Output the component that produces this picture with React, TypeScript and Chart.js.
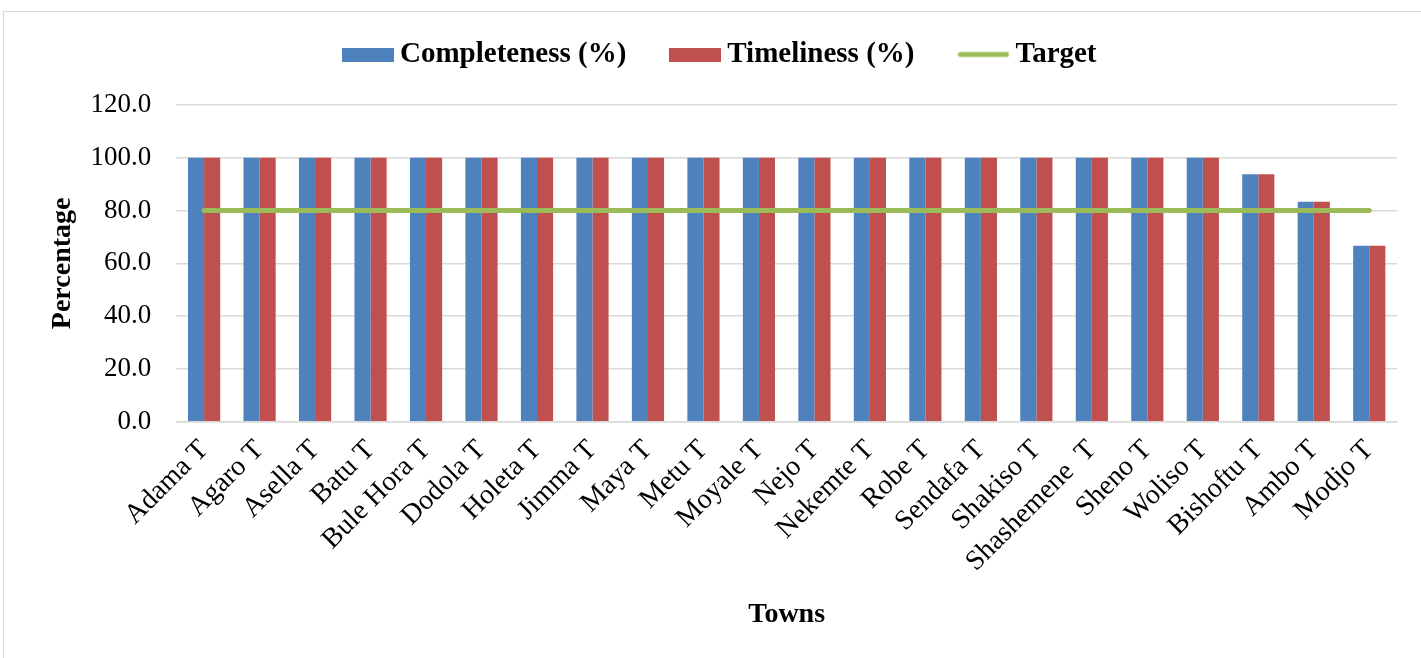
import React, { useEffect, useRef } from "react";
import { Chart, registerables } from "chart.js";

Chart.register(...registerables);

const towns = [
  "Adama T", "Agaro T", "Asella T", "Batu T", "Bule Hora T", "Dodola T",
  "Holeta T", "Jimma T", "Maya T", "Metu T", "Moyale T", "Nejo T",
  "Nekemte T", "Robe T", "Sendafa T", "Shakiso T", "Shashemene  T", "Sheno T",
  "Woliso T", "Bishoftu T", "Ambo T", "Modjo T",
];
const completeness = [100, 100, 100, 100, 100, 100, 100, 100, 100, 100, 100, 100, 100, 100, 100, 100, 100, 100, 100, 93.8, 83.3, 66.7];
const timeliness = [100, 100, 100, 100, 100, 100, 100, 100, 100, 100, 100, 100, 100, 100, 100, 100, 100, 100, 100, 93.8, 83.3, 66.7];
const target = [80, 80, 80, 80, 80, 80, 80, 80, 80, 80, 80, 80, 80, 80, 80, 80, 80, 80, 80, 80, 80, 80];
const yTicks = [0, 20, 40, 60, 80, 100, 120];

const FONT = "'Liberation Serif', 'Times New Roman', serif";
const BLUE = "#4F81BD";
const RED = "#C0504D";
const GREEN = "#9BBB59";

function makeIcon(color: string, isLine: boolean): HTMLCanvasElement {
  const cv = document.createElement("canvas");
  cv.width = 52;
  cv.height = 14;
  const ctx = cv.getContext("2d")!;
  if (isLine) {
    ctx.strokeStyle = color;
    ctx.lineWidth = 5;
    ctx.lineCap = "round";
    ctx.beginPath();
    ctx.moveTo(3, 7);
    ctx.lineTo(49, 7);
    ctx.stroke();
  } else {
    ctx.fillStyle = color;
    ctx.fillRect(0, 0, 52, 14);
  }
  return cv;
}

export default function App() {
  const ref = useRef<HTMLCanvasElement | null>(null);
  useEffect(() => {
    document.body.style.margin = "0";
    const canvas = ref.current;
    if (!canvas) return;
    const icons = [makeIcon(BLUE, false), makeIcon(RED, false), makeIcon(GREEN, true)];
    const chart = new Chart(canvas, {
      type: "bar",
      data: {
        labels: towns,
        datasets: [
          {
            label: "Completeness (%)",
            data: completeness,
            backgroundColor: BLUE,
            borderWidth: 0,
            order: 1,
            categoryPercentage: 0.58,
            barPercentage: 1,
          } as any,
          {
            label: "Timeliness (%)",
            data: timeliness,
            backgroundColor: RED,
            borderWidth: 0,
            order: 1,
            categoryPercentage: 0.58,
            barPercentage: 1,
          } as any,
          {
            type: "line",
            label: "Target",
            data: target,
            borderColor: GREEN,
            backgroundColor: GREEN,
            borderWidth: 5,
            borderCapStyle: "round",
            pointRadius: 0,
            order: 0,
          } as any,
        ],
      },
      options: {
        animation: false,
        responsive: false,
        maintainAspectRatio: false,
        layout: { padding: { top: 0, left: 26, right: 24, bottom: 26 } },
        plugins: {
          legend: {
            position: "top",
            labels: {
              usePointStyle: true,
              pointStyleWidth: 35,
              boxHeight: 14,
              padding: 51.5,
              color: "#000",
              font: { family: FONT, size: 29, weight: "bold" },
              sort: (a: any, b: any) => a.datasetIndex - b.datasetIndex,
              generateLabels: (c: any) => {
                const items = (Chart.defaults.plugins.legend.labels as any).generateLabels(c);
                return items.map((it: any) => ({ ...it, pointStyle: icons[it.datasetIndex] }));
              },
            },
          },
          tooltip: { enabled: false },
        },
        scales: {
          x: {
            grid: { display: false },
            border: { color: "#D9D9D9", width: 1.5 },
            ticks: {
              autoSkip: false,
              minRotation: 45,
              maxRotation: 45,
              padding: 4,
              color: "#000",
              font: { family: FONT, size: 28 },
            },
            title: {
              display: true,
              text: "Towns",
              color: "#000",
              font: { family: FONT, size: 28, weight: "bold" },
              padding: { top: 16, bottom: 0 },
            },
          },
          y: {
            min: 0,
            max: 120,
            afterBuildTicks: (axis: any) => {
              axis.ticks = yTicks.map((v) => ({ value: v }));
            },
            grid: { color: "#D9D9D9", lineWidth: 1.5, drawTicks: false },
            border: { display: false },
            ticks: {
              padding: 25,
              color: "#000",
              font: { family: FONT, size: 27 },
              callback: (v: any) => Number(v).toFixed(1),
            },
            title: {
              display: true,
              text: "Percentage",
              color: "#000",
              font: { family: FONT, size: 28, weight: "bold" },
              padding: { top: 20, bottom: -14 },
            },
          },
        },
      },
      plugins: [
        {
          id: "legendGap",
          beforeInit(c: any) {
            const orig = c.legend.fit;
            c.legend.fit = function () {
              orig.bind(c.legend)();
              this.height += 14.5;
            };
          },
          afterLayout(c: any) {
            const lg = c.legend;
            if (!lg) return;
            lg.left += 12;
            lg.right += 12;
            lg.top -= 11.5;
            lg.bottom -= 11.5;
          },
        },
      ],
    });
    return () => chart.destroy();
  }, []);

  return (
    <div style={{ position: "fixed", left: 0, top: 0, width: 1421, height: 658, overflow: "hidden", background: "#fff" }}>
      <div style={{ position: "absolute", left: 3, top: 11, width: 1440, height: 700, border: "1px solid #D9D9D9", boxSizing: "border-box" }} />
      <canvas ref={ref} width={1421} height={658} style={{ position: "absolute", left: 0, top: 0, width: 1421, height: 658 }} />
    </div>
  );
}
